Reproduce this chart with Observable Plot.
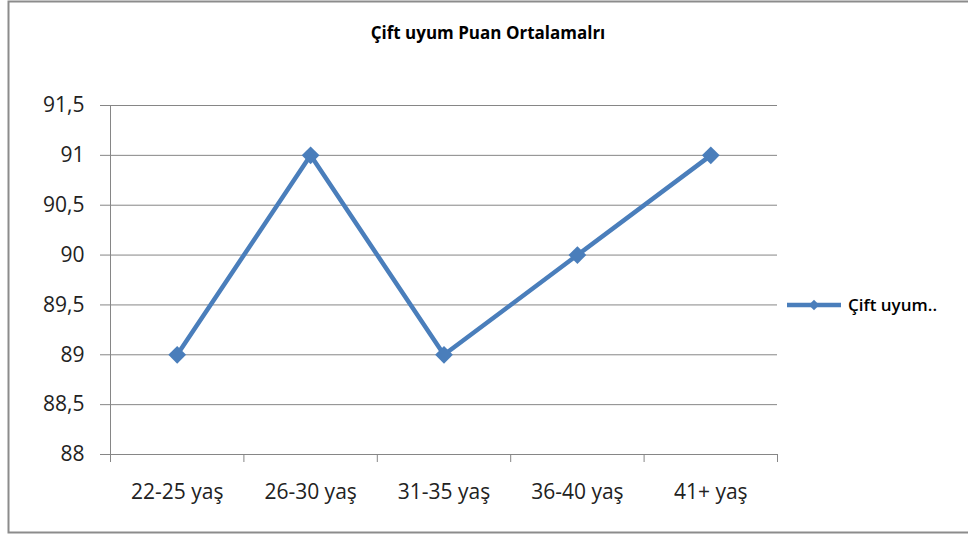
<!DOCTYPE html>
<html>
<head>
<meta charset="utf-8">
<script src="https://cdn.jsdelivr.net/npm/d3@7"></script>
<script src="https://cdn.jsdelivr.net/npm/@observablehq/plot@0.6"></script>
<style>
  html, body { margin: 0; padding: 0; background: #fff; }
  #chart svg { display: block; }
</style>
</head>
<body>
<div id="chart"></div>
<script>
const title = "Çift uyum Puan Ortalamalrı";
const seriesName = "Çift uyum..";
const categories = ["22-25 yaş", "26-30 yaş", "31-35 yaş", "36-40 yaş", "41+ yaş"];
const values = [89, 91, 89, 90, 91];
const yTicks = [88, 88.5, 89, 89.5, 90, 90.5, 91, 91.5];

const lineColor = "#4A7EBB";
const gridColor = "#868686";
const font = "'Open Sans', sans-serif";

const data = categories.map((c, i) => ({pos: i + 0.5, label: c, value: values[i]}));
const centers = categories.map((c, i) => i + 0.5);
const bounds = d3.range(categories.length + 1);

const W = 968, H = 536;
const plot = Plot.plot({
  width: W, height: H,
  marginLeft: 110, marginRight: 191, marginTop: 105, marginBottom: 82,
  style: {fontFamily: font, background: "#fff", color: "#000"},
  x: {domain: [0, categories.length]},
  y: {domain: [88, 91.5]},
  marks: [
    Plot.gridY(yTicks, {stroke: gridColor, strokeOpacity: 1, strokeWidth: 1}),
    Plot.axisY({ticks: yTicks, tickSize: 10, tickFormat: () => "", stroke: gridColor, label: null}),
    Plot.axisY({ticks: yTicks, tickSize: 0, tickPadding: 26, fontSize: 21, fill: "#222",
      tickFormat: d => String(d).replace(".", ","), label: null}),
    Plot.axisX({ticks: bounds, tickSize: 8, tickFormat: () => "", stroke: gridColor, label: null}),
    Plot.axisX({ticks: centers, tickSize: 0, tickPadding: 30, fontSize: 21, fill: "#222",
      tickFormat: d => categories[Math.floor(d)], label: null}),
    Plot.ruleX([0], {y1: 88, y2: 91.5, stroke: gridColor}),
    Plot.line(data, {x: "pos", y: "value", stroke: lineColor, strokeWidth: 4.5}),
    Plot.dot(data, {x: "pos", y: "value", symbol: "diamond2", r: 8, fill: lineColor, stroke: "none"})
  ]
});

const svg = d3.select(plot);
// border
svg.append("path")
  .attr("d", `M${W + 5},1.5 H8.5 V532.5 H${W + 5}`)
  .attr("fill", "none").attr("stroke", "#8c8c8c").attr("stroke-width", 2);
// title
svg.append("text")
  .attr("x", 488).attr("y", 39)
  .attr("text-anchor", "middle")
  .attr("font-family", font).attr("font-weight", "bold").attr("font-size", 17)
  .attr("fill", "#000")
  .text(title);
// legend
const lg = svg.append("g").attr("transform", "translate(787,305)");
lg.append("line").attr("x1", 0).attr("x2", 54).attr("y1", 0).attr("y2", 0)
  .attr("stroke", lineColor).attr("stroke-width", 4.5);
lg.append("path").attr("d", d3.symbol(d3.symbolDiamond2, 70)()).attr("transform", "translate(27,0)")
  .attr("fill", lineColor);
lg.append("text").attr("x", 61).attr("y", 0).attr("dy", "0.35em")
  .attr("text-anchor", "start")
  .attr("font-family", font).attr("font-size", 17).attr("font-weight", 600).attr("fill", "#000")
  .text(seriesName);

document.getElementById("chart").appendChild(plot);
</script>
</body>
</html>
